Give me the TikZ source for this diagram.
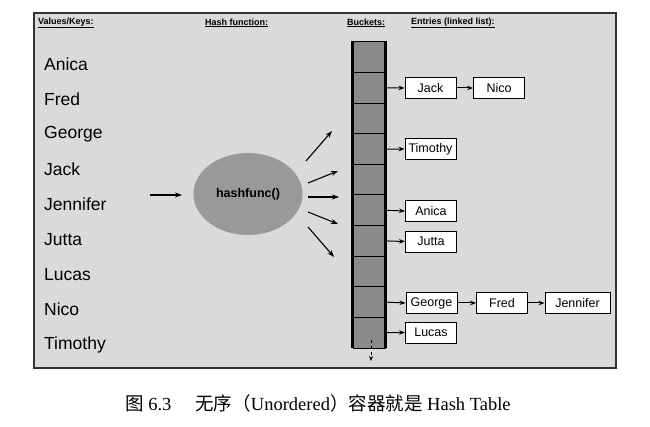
\documentclass[tikz,border=0pt]{standalone}
\usepackage{fontspec}
\setmainfont{Liberation Sans}
\newfontfamily\capserif{Liberation Serif}
\newfontfamily\cjk{Noto Sans CJK SC}
\usetikzlibrary{arrows.meta,shapes.geometric}
\definecolor{bgpanel}{HTML}{DADADA}
\definecolor{cellgray}{HTML}{8A8A8A}
\definecolor{ellgray}{HTML}{999999}
\definecolor{framegray}{HTML}{333333}
\tikzset{
  hdr/.style={font=\fontsize{9}{10}\selectfont\bfseries, anchor=west, inner sep=0pt},
  keylabel/.style={font=\fontsize{17.5}{19}\selectfont, anchor=west, inner sep=0pt},
  entry/.style={draw=black, fill=white, line width=0.9pt, minimum width=51pt, minimum height=21pt, inner sep=1pt, font=\fontsize{12.5}{14}\selectfont},
  cell/.style={draw=black, fill=cellgray, line width=1pt, minimum width=32pt, minimum height=30.6pt, inner sep=0pt},
  arr/.style={-{Stealth[length=6pt,width=4.5pt]}, line width=1pt},
  harr/.style={-{Stealth[length=7pt,width=5pt]}, line width=1.1pt}
}
\begin{document}
\begin{tikzpicture}[x=1pt,y=-1pt]
\useasboundingbox (0,0) rectangle (650,427);
% panel
\draw[framegray, line width=1.3pt, fill=bgpanel] (34,13) rectangle (616,368);
% headers
\node[hdr] (h1) at (38,23) {\underline{Values/Keys:}};
\node[hdr] (h2) at (205,23) {\underline{Hash function:}};
\node[hdr] (h3) at (347,23) {\underline{Buckets:}};
\node[hdr] (h4) at (411,23) {\underline{Entries (linked list):}};
% keys
\foreach \name [count=\i] in {Anica,Fred,George,Jack,Jennifer,Jutta,Lucas,Nico,Timothy}
  \node[keylabel] (k\i) at (44, 64+35.1*\i-35.1) {\name};
% hash function
\node[ellipse, fill=ellgray, minimum width=109pt, minimum height=82pt, inner sep=0pt,
      font=\fontsize{12.5}{14}\selectfont\bfseries] (hf) at (248,194) {hashfunc()};
\coordinate (ins) at (150,195);
\coordinate (ine) at (182,195);
\draw[harr] (ins) -- (ine);
\coordinate (o1s) at (306,161); \coordinate (o1e) at (332,131);
\coordinate (o2s) at (308,183); \coordinate (o2e) at (338,171);
\coordinate (o3s) at (308,197); \coordinate (o3e) at (339,197);
\coordinate (o4s) at (308,212); \coordinate (o4e) at (338,224);
\coordinate (o5s) at (308,227); \coordinate (o5e) at (334,257);
\foreach \j in {1,...,5} \draw[harr] (o\j s) -- (o\j e);
% buckets
\foreach \i in {1,...,10}
  \node[cell] (b\i) at (369, 42+30.6*\i-15.3) {};
\draw[black, line width=2.4pt] (b1.north west) -- ([yshift=1pt]b10.south west);
\draw[black, line width=2.4pt] (b1.north east) -- ([yshift=1pt]b10.south east);
\draw[black, line width=1.6pt] (b1.north west) -- (b1.north east);
\coordinate (ds) at (371,340);
\coordinate (de) at (371,361);
\draw[dashed, line width=0.9pt, -{Stealth[length=5pt,width=4pt]}] (ds) -- (de);
% entries
\node[entry] (jack) at (430.5,88) {Jack};
\node[entry] (nico) at (499,88) {Nico};
\node[entry] (timothy) at (430.5,149) {Timothy};
\node[entry] (anica) at (431,211) {Anica};
\node[entry] (jutta) at (431,241.5) {Jutta};
\node[entry] (george) at (431.5,303) {George};
\node[entry] (fred) at (502,303) {Fred};
\node[entry, minimum width=65pt] (jennifer) at (577.5,303) {Jennifer};
\node[entry] (lucas) at (431,332.5) {Lucas};
\draw[arr] (b2.east) -- (jack.west);
\draw[arr] (jack.east) -- (nico.west);
\draw[arr] (b4.east) -- (timothy.west);
\draw[arr] (b6.east) -- (anica.west);
\draw[arr] (b7.east) -- (jutta.west);
\draw[arr] (b9.east) -- (george.west);
\draw[arr] (george.east) -- (fred.west);
\draw[arr] (fred.east) -- (jennifer.west);
\draw[arr] (b10.east) -- (lucas.west);
% caption
\node[anchor=west, inner sep=0pt, font=\capserif\fontsize{18.5}{20}\selectfont] (cap) at (125,403)
  {{\cjk 图}~6.3\hspace{24pt}{\cjk 无序（}Unordered{\cjk ）容器就是}~Hash Table};
\end{tikzpicture}
\end{document}
